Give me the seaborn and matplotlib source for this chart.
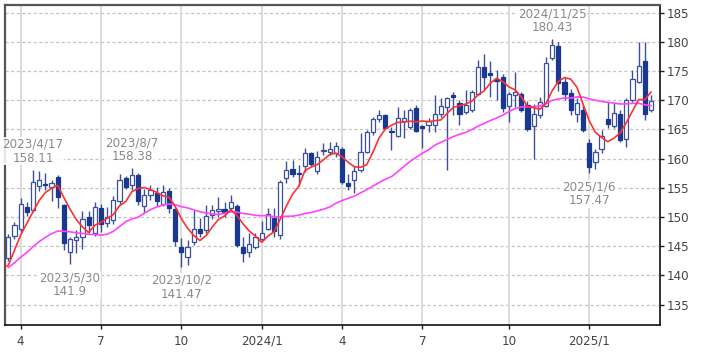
import numpy as np
import pandas as pd
import matplotlib
matplotlib.use("Agg")
import matplotlib.pyplot as plt
import seaborn as sns

# ---------------- data (weekly candles, first week starts 2023-03-20) ----------------
first_week = "2023-03-20"
opens = [143.0, 146.8, 148.0, 151.7, 151.2, 155.3, 155.6, 155.2, 156.8, 152.0,
         144.0, 146.0, 146.6, 150.0, 147.3, 151.5, 148.9, 149.5, 152.8, 156.6,
         155.4, 157.2, 151.8, 153.7, 154.1, 152.3, 154.5, 151.3, 144.9, 143.2,
         145.7, 147.9, 147.7, 150.4, 151.0, 151.3, 151.5, 151.8, 144.9, 144.0,
         144.9, 146.2, 147.9, 149.8, 146.9, 156.6, 158.2, 157.5, 158.7, 161.0,
         157.8, 161.3, 161.2, 160.9, 161.7, 155.8, 156.3, 158.0, 161.2, 164.6,
         166.8, 167.4, 164.6, 163.9, 166.4, 165.4, 168.7, 165.5, 165.7, 165.7,
         167.7, 168.9, 170.9, 169.6, 168.0, 168.3, 171.1, 175.6, 174.7, 173.7,
         173.9, 169.0, 170.9, 171.0, 169.2, 165.5, 167.4, 169.0, 177.3, 179.3,
         173.1, 171.2, 167.7, 168.4, 162.6, 159.4, 161.6, 166.7, 165.5, 167.7,
         163.4, 170.0, 173.1, 176.7, 168.3]
highs = [147.0, 149.2, 153.2, 152.6, 158.11, 157.9, 157.5, 156.3, 157.2, 152.3,
         146.6, 147.7, 151.0, 151.0, 152.5, 152.3, 151.7, 153.6, 157.4, 157.0,
         158.38, 157.6, 154.8, 155.5, 155.2, 155.4, 155.0, 151.6, 146.4, 146.0,
         151.2, 149.8, 152.0, 152.0, 153.4, 152.6, 153.8, 152.2, 146.6, 147.2,
         147.2, 149.3, 151.5, 151.5, 156.4, 159.5, 159.8, 158.9, 161.8, 161.2,
         161.3, 162.6, 162.9, 162.9, 162.0, 157.4, 158.8, 164.3, 164.9, 167.1,
         168.3, 167.7, 165.4, 168.9, 168.3, 168.6, 169.1, 165.8, 166.9, 170.9,
         170.3, 170.6, 171.4, 170.0, 171.7, 171.7, 176.8, 177.9, 176.7, 175.1,
         174.5, 171.4, 174.9, 171.4, 169.9, 169.3, 170.6, 177.4, 180.43, 179.9,
         173.8, 172.0, 170.3, 169.1, 163.4, 161.7, 164.9, 169.7, 169.6, 168.3,
         170.3, 175.1, 180.0, 180.0, 170.9]
lows = [142.5, 146.2, 147.5, 150.2, 150.8, 154.5, 154.6, 152.7, 151.5, 144.3,
        141.9, 143.8, 144.5, 147.3, 146.8, 147.5, 148.3, 148.8, 152.0, 154.8,
        154.6, 152.0, 150.6, 152.9, 151.8, 151.8, 150.6, 145.0, 141.47, 141.8,
        145.2, 146.6, 147.2, 149.6, 150.0, 150.0, 151.0, 144.9, 142.3, 143.2,
        144.6, 145.9, 147.7, 146.5, 146.3, 155.8, 156.9, 155.3, 157.7, 158.7,
        157.4, 160.6, 160.6, 160.2, 155.6, 154.7, 154.1, 157.7, 160.9, 164.0,
        166.3, 165.1, 161.5, 163.7, 163.5, 165.1, 164.5, 161.8, 164.5, 164.5,
        167.1, 158.0, 167.4, 165.7, 167.7, 168.0, 170.9, 172.0, 170.6, 170.0,
        168.0, 166.3, 168.9, 168.0, 164.8, 159.9, 166.9, 168.9, 176.8, 171.6,
        170.0, 167.4, 166.3, 164.6, 157.47, 158.3, 161.0, 165.2, 165.3, 162.9,
        162.0, 169.7, 172.9, 166.6, 168.0]
closes = [146.6, 148.6, 152.3, 150.9, 156.0, 156.3, 155.4, 155.9, 153.5, 145.5,
          146.3, 146.6, 149.6, 148.7, 151.7, 148.8, 150.0, 152.9, 156.3, 155.2,
          157.2, 152.8, 153.7, 154.6, 152.8, 154.3, 151.6, 145.8, 144.0, 144.8,
          148.0, 147.2, 150.1, 151.2, 151.4, 150.9, 152.6, 145.2, 143.9, 145.3,
          146.6, 147.3, 150.5, 147.6, 156.0, 158.0, 157.4, 157.3, 161.0, 159.0,
          160.2, 161.5, 161.7, 162.2, 156.0, 155.3, 157.8, 161.2, 164.5, 166.7,
          167.5, 165.3, 164.5, 167.0, 166.9, 168.3, 164.8, 165.2, 166.4, 167.7,
          169.0, 170.3, 170.5, 167.7, 169.2, 171.4, 175.7, 174.0, 174.3, 173.3,
          168.7, 171.1, 171.4, 168.4, 165.0, 167.7, 169.7, 176.3, 179.4, 173.0,
          171.0, 168.3, 169.5, 164.9, 158.6, 161.2, 163.8, 166.0, 167.8, 163.2,
          170.0, 173.7, 175.8, 167.7, 169.9]
# closes of the 25 weeks before the first visible candle (feed the moving averages)
prior_closes = [126.5, 128.0, 129.5, 130.5, 133.5, 136.5, 139.5, 141.5, 146.5, 149.0,
                151.0, 152.0, 153.0, 152.5, 151.5, 146.0, 140.0, 135.0, 133.5, 145.0,
                145.0, 135.6, 139.3, 140.9, 146.1]
ma_short, ma_long = 5, 26

tick_dates = ["2023-04-03", "2023-07-03", "2023-10-02", "2024-01-01",
              "2024-04-01", "2024-07-01", "2024-10-07", "2025-01-06"]
tick_labels = ["4", "7", "10", "2024/1", "4", "7", "10", "2025/1"]
y_ticks = [135, 140, 145, 150, 155, 160, 165, 170, 175, 180, 185]

high_notes = [("2023-04-17", "2023/4/17", 158.11),
              ("2023-08-07", "2023/8/7", 158.38),
              ("2024-11-25", "2024/11/25", 180.43)]
low_notes = [("2023-05-29", "2023/5/30", 141.9),
             ("2023-10-02", "2023/10/2", 141.47),
             ("2025-01-06", "2025/1/6", 157.47)]

# ---------------- build table ----------------
n = len(closes)
weeks = pd.date_range(first_week, periods=n, freq="W-MON")
df = pd.DataFrame({"week": weeks, "open": opens, "high": highs,
                   "low": lows, "close": closes})
df["idx"] = np.arange(n)
week_pos = {d: i for i, d in enumerate(weeks)}

all_close = pd.Series(prior_closes + closes, dtype=float)
ma_df = pd.DataFrame({
    "idx": np.arange(-len(prior_closes), n),
    "ma_s": all_close.rolling(ma_short).mean().values,
    "ma_l": all_close.rolling(ma_long).mean().values,
})
ma_df = ma_df[ma_df["idx"] >= -2]

# ---------------- figure ----------------
sns.set_style("white")
plt.rcParams["font.family"] = ["DejaVu Sans"]
fig = plt.figure(figsize=(7.09, 3.54), dpi=100)
ax = fig.add_axes([5 / 709, 1 - 325 / 354, 655 / 709, 320 / 354])

xmin, xmax = -0.53, 105.45
ax.set_xlim(xmin, xmax)
ax.set_ylim(131.5, 186.3)

# grid
for v in y_ticks:
    ax.axhline(v, color="#c4c4c4", lw=0.9, ls=(0, (2.5, 2)), zorder=0)
tick_pos = [week_pos[pd.Timestamp(d)] for d in tick_dates]
for p in tick_pos:
    ax.axvline(p, color="#dcdcdc", lw=1.4, zorder=0)

navy = "#1b3890"
edge = "#3c4f9e"
up = df["close"] >= df["open"]
# wicks
ax.vlines(df["idx"], df["low"], df["high"], color=edge, lw=1.0, zorder=2)
body_h = (df["close"] - df["open"]).abs().clip(lower=0.18)
body_b = df[["open", "close"]].min(axis=1)
ax.bar(df["idx"][up], body_h[up], bottom=body_b[up], width=0.68,
       facecolor="white", edgecolor=edge, linewidth=0.9, zorder=3)
ax.bar(df["idx"][~up], body_h[~up], bottom=body_b[~up], width=0.68,
       facecolor=navy, edgecolor=navy, linewidth=0.9, zorder=3)

# moving averages
sns.lineplot(data=ma_df, x="idx", y="ma_l", ax=ax, color="#ff44ff", lw=1.2,
             zorder=4, legend=False)
sns.lineplot(data=ma_df, x="idx", y="ma_s", ax=ax, color="#ff3030", lw=1.2,
             zorder=5, legend=False)

# annotations
box = dict(boxstyle="square,pad=0.05", facecolor="white", edgecolor="none", alpha=0.85)
for d, txt, v in high_notes:
    ax.annotate(f"{txt}\n{v:g}", xy=(week_pos[pd.Timestamp(d)], v),
                xytext=(0, 3.5), textcoords="offset points", ha="center",
                va="bottom", fontsize=8.6, color="#8a8a8a", linespacing=1.1,
                multialignment="center", bbox=box, zorder=6)
for d, txt, v in low_notes:
    ax.annotate(f"{txt}\n{v:g}", xy=(week_pos[pd.Timestamp(d)], v),
                xytext=(0, -5), textcoords="offset points", ha="center",
                va="top", fontsize=8.6, color="#8a8a8a", linespacing=1.1,
                multialignment="center", bbox=box, zorder=6)

# axes styling
ax.set_xticks(tick_pos)
ax.set_xticklabels(tick_labels)
ax.set_yticks(y_ticks)
ax.yaxis.tick_right()
ax.tick_params(axis="x", direction="out", length=3, width=1, pad=4,
               labelsize=8.6, colors="#222222", labelcolor="#444444", bottom=True)
ax.tick_params(axis="y", direction="out", length=3, width=1, pad=2,
               labelsize=8.6, colors="#222222", labelcolor="#444444", right=True, left=False)
ax.set_xlabel("")
ax.set_ylabel("")
for side in ["top", "left"]:
    ax.spines[side].set_color("#555555")
    ax.spines[side].set_linewidth(1.6)
for side in ["bottom", "right"]:
    ax.spines[side].set_color("#111111")
    ax.spines[side].set_linewidth(1.2)
ax.grid(False)

fig.savefig("out.png", dpi=100)
